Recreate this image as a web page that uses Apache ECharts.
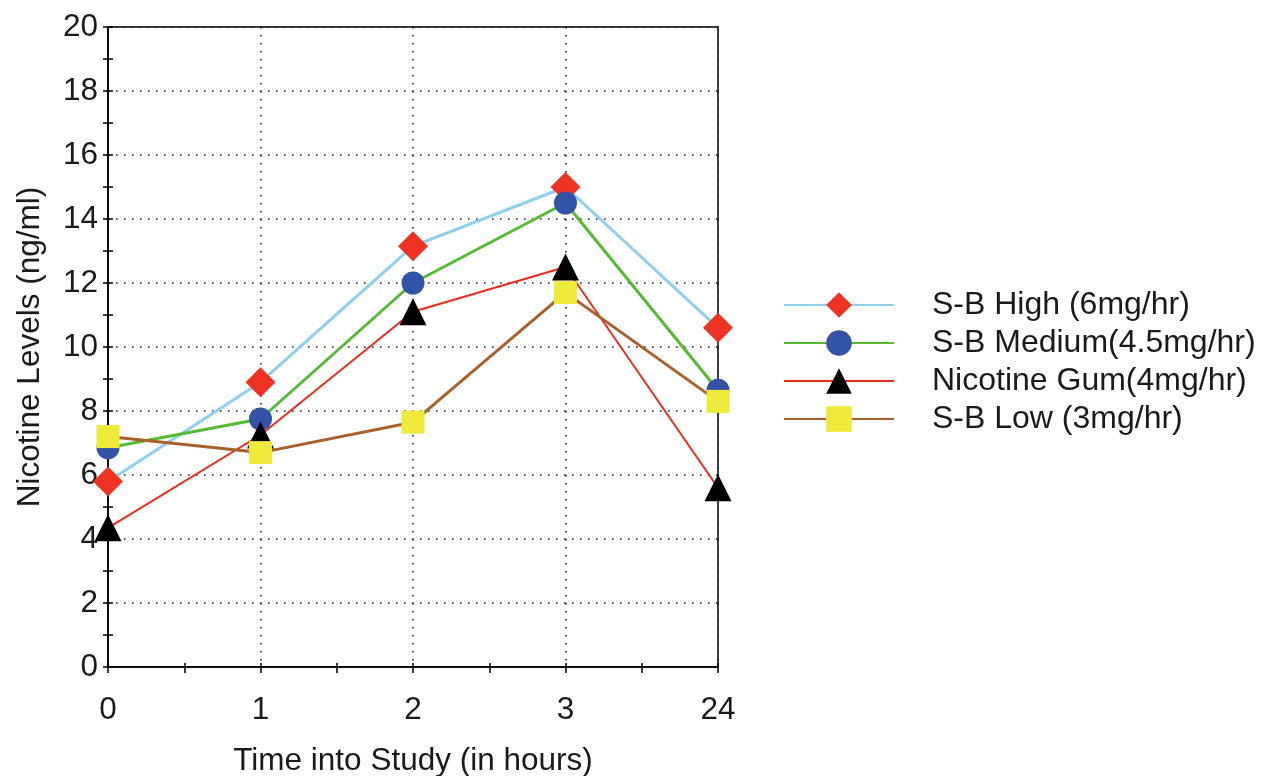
<!DOCTYPE html>
<html><head><meta charset="utf-8">
<script src="https://cdn.jsdelivr.net/npm/echarts@6/dist/echarts.min.js"></script>
<style>html,body{margin:0;padding:0;background:#fff}#c{width:1261px;height:776px}</style>
</head><body><div id="c"></div>
<script>
const categories = ['0','1','2','3','24'];
const sbHigh = [5.8, 8.9, 13.15, 15.0, 10.6];
const sbMedium = [6.85, 7.75, 12.0, 14.5, 8.65];
const nicGum = [4.35, 7.25, 11.1, 12.5, 5.6];
const sbLow = [7.2, 6.7, 7.65, 11.7, 8.3];
const yTicks = [0,2,4,6,8,10,12,14,16,18,20];

const font = 'Liberation Sans, Arial, sans-serif';
const txt = '#1a1a1a';
const toPts = arr => arr.map((v,i)=>[i,v]);
const chart = echarts.init(document.getElementById('c'));
const dotted = {show:true, lineStyle:{color:'#222', width:1.6, type:[1.6,6.4]}};
function ser(name, data, lineColor, lw, symbol, size, mColor){
  return {name, type:'line', data: toPts(data), symbol, symbolSize:size,
    lineStyle:{color:lineColor, width:lw}, itemStyle:{color:mColor, borderWidth:0},
    emphasis:{disabled:true}, z:3};
}
chart.setOption({
  animation:false,
  grid:{left:108, right:543, top:27, bottom:109, show:true, borderColor:'#000', borderWidth:1.5,
    containLabel:false, outerBoundsMode:'none'},
  legend:{orient:'vertical', left:778, top:284, itemWidth:110, itemHeight:32, itemGap:6,
    textStyle:{fontFamily:font, fontSize:32, color:txt, padding:[0,0,0,33]},
    data:['S-B High (6mg/hr)','S-B Medium(4.5mg/hr)','Nicotine Gum(4mg/hr)','S-B Low (3mg/hr)']},
  xAxis:[{type:'value', min:0, max:4, interval:1,
    name:'Time into Study (in hours)', nameLocation:'middle', nameGap:78,
    nameTextStyle:{fontFamily:font, fontSize:31.5, color:txt},
    axisLine:{lineStyle:{color:'#000', width:1.5}},
    axisTick:{show:true, length:6, lineStyle:{color:'#000', width:1.5}},
    minorTick:{show:true, splitNumber:2, length:6, lineStyle:{color:'#000', width:1.5}},
    axisLabel:{fontFamily:font, fontSize:31.5, color:txt, margin:27, formatter:v=>categories[v]},
    splitLine:dotted},
   {type:'value', min:0, max:4, interval:1, position:'bottom', axisLabel:{show:false},
    axisLine:{show:false}, splitLine:{show:false},
    axisTick:{show:true, inside:true, length:4, lineStyle:{color:'#000', width:1.5}},
    minorTick:{show:true, splitNumber:2, length:4, lineStyle:{color:'#000', width:1.5}}}],
  yAxis:[{type:'value', min:0, max:20, interval:2,
    name:'Nicotine Levels (ng/ml)', nameLocation:'middle', nameGap:62,
    nameTextStyle:{fontFamily:font, fontSize:31.5, color:txt},
    axisLine:{show:true, lineStyle:{color:'#000', width:1.5}},
    axisTick:{show:true, length:5, lineStyle:{color:'#000', width:1.5}},
    minorTick:{show:true, splitNumber:2, length:5, lineStyle:{color:'#000', width:1.5}},
    axisLabel:{fontFamily:font, fontSize:31.5, color:txt, margin:10,
      formatter:v=>yTicks.includes(v)?String(v):''},
    splitLine:dotted},
   {type:'value', min:0, max:20, interval:2, position:'left', axisLabel:{show:false},
    axisLine:{show:false}, splitLine:{show:false},
    axisTick:{show:true, inside:true, length:5, lineStyle:{color:'#000', width:1.5}},
    minorTick:{show:true, splitNumber:2, length:5, lineStyle:{color:'#000', width:1.5}}}],
  series:[
    ser('S-B High (6mg/hr)', sbHigh, '#8ecfef', 3, 'diamond', 30, '#ee3322'),
    ser('S-B Medium(4.5mg/hr)', sbMedium, '#55bb33', 3, 'circle', 23, '#3353a6'),
    ser('Nicotine Gum(4mg/hr)', nicGum, '#ee2a1e', 2, 'triangle', 27, '#000'),
    ser('S-B Low (3mg/hr)', sbLow, '#a9602a', 3, 'rect', 23, '#eeea3a')
  ]
});
</script></body></html>
